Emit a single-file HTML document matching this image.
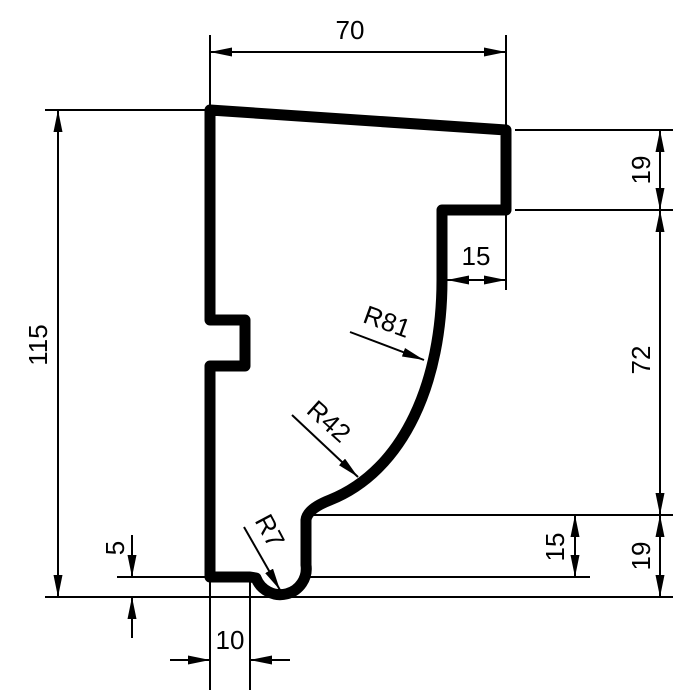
<!DOCTYPE html>
<html><head><style>html,body{margin:0;padding:0;background:#fff}svg{display:block}</style></head>
<body>
<svg width="700" height="700" viewBox="0 0 700 700" xmlns="http://www.w3.org/2000/svg" font-family="Liberation Sans, sans-serif" font-size="26">
<defs>
<marker id="a" viewBox="0 0 22 9" refX="22" refY="4.5" markerWidth="22" markerHeight="9" markerUnits="userSpaceOnUse" orient="auto"><path d="M0,0 L22,4.5 L0,9 Z" fill="#000"/></marker>
</defs>
<g stroke="#000" stroke-width="2" fill="none">
<line x1="210" y1="35" x2="210" y2="108"/>
<line x1="506" y1="35" x2="506" y2="290"/>
<line x1="45" y1="110" x2="205" y2="110"/>
<line x1="45" y1="597" x2="673" y2="597"/>
<line x1="515" y1="130" x2="673" y2="130"/>
<line x1="515" y1="210" x2="673" y2="210"/>
<line x1="310" y1="515" x2="673" y2="515"/>
<line x1="300" y1="577" x2="590" y2="577"/>
<line x1="117" y1="577" x2="205" y2="577"/>
<line x1="210" y1="582" x2="210" y2="690"/>
<line x1="250" y1="582" x2="250" y2="690"/>
<line x1="58" y1="350" x2="58" y2="597" marker-end="url(#a)"/>
<line x1="58" y1="350" x2="58" y2="110" marker-end="url(#a)"/>
<line x1="660" y1="170" x2="660" y2="130" marker-end="url(#a)"/>
<line x1="660" y1="170" x2="660" y2="210" marker-end="url(#a)"/>
<line x1="660" y1="360" x2="660" y2="210" marker-end="url(#a)"/>
<line x1="660" y1="360" x2="660" y2="515" marker-end="url(#a)"/>
<line x1="660" y1="555" x2="660" y2="515" marker-end="url(#a)"/>
<line x1="660" y1="555" x2="660" y2="597" marker-end="url(#a)"/>
<line x1="575" y1="546" x2="575" y2="515" marker-end="url(#a)"/>
<line x1="575" y1="546" x2="575" y2="577" marker-end="url(#a)"/>
<line x1="476" y1="280" x2="447" y2="280" marker-end="url(#a)"/>
<line x1="476" y1="280" x2="506" y2="280" marker-end="url(#a)"/>
<line x1="132" y1="535" x2="132" y2="577" marker-end="url(#a)"/>
<line x1="132" y1="638" x2="132" y2="597" marker-end="url(#a)"/>
<line x1="170" y1="660" x2="210" y2="660" marker-end="url(#a)"/>
<line x1="290" y1="660" x2="250" y2="660" marker-end="url(#a)"/>
<line x1="350" y1="332" x2="424" y2="360" marker-end="url(#a)"/>
<line x1="292" y1="415" x2="358" y2="477" marker-end="url(#a)"/>
<line x1="244" y1="527" x2="280" y2="590" marker-end="url(#a)"/>
<line x1="358" y1="52" x2="210" y2="52" marker-end="url(#a)"/>
<line x1="358" y1="52" x2="506" y2="52" marker-end="url(#a)"/>
</g>
<path d="M210,110 L506,130 L506,210 L442,210 L442,280 C442,380 405,470 330,500 Q307,509 306,520 L306,565 A26,26 0 0 1 256,578 L250,577 L210,577 L210,366 L245,366 L245,320 L210,320 Z" fill="none" stroke="#000" stroke-width="11" stroke-linejoin="round"/>
<g fill="#000" text-anchor="middle">
<text x="350" y="39">70</text>
<text transform="translate(47,345) rotate(-90)">115</text>
<text transform="translate(650,170) rotate(-90)">19</text>
<text transform="translate(650,360) rotate(-90)">72</text>
<text transform="translate(650,556) rotate(-90)">19</text>
<text transform="translate(564,547) rotate(-90)">15</text>
<text x="476" y="265">15</text>
<text transform="translate(124,548) rotate(-90)">5</text>
<text x="230" y="649">10</text>
<text transform="translate(384,330) rotate(20)">R81</text>
<text transform="translate(323,428) rotate(42)">R42</text>
<text transform="translate(262,535) rotate(62)">R7</text>
</g>
</svg>
</body></html>
